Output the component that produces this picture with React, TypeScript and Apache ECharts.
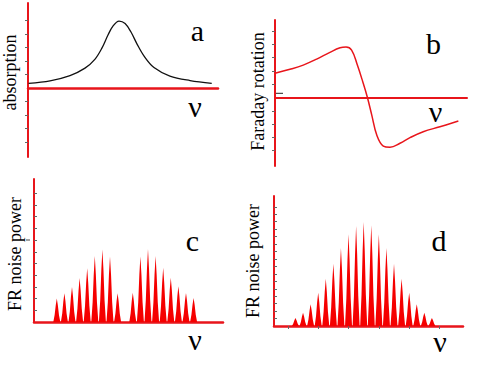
import React, { useEffect, useRef } from "react";
import * as echarts from "echarts";

// Panel a: absorption line (x: frequency units 0..100, y: tick units)
const CURVE_A_X = [0.3, 11.6, 22.1, 30.0, 35.3, 38.9, 42.1, 44.7, 47.9, 51.1, 54.2, 57.4, 61.1, 66.3, 74.7, 85.3, 96.7];
const CURVE_A_Y = [0.35, 0.54, 0.93, 1.48, 2.15, 2.96, 3.93, 4.59, 4.96, 4.78, 4.15, 3.26, 2.37, 1.52, 0.89, 0.56, 0.35];

// Panel b: Faraday rotation (dispersion)
const CURVE_B_X = [0, 7.8, 14.7, 21.7, 28.6, 33.9, 37.0, 39.9, 42.9, 45.7, 48.1, 50.4, 53.0, 56.4, 59.9, 65.1, 70.3, 77.2, 85.9, 95.5];
const CURVE_B_Y = [1.82, 2.12, 2.44, 2.89, 3.4, 3.74, 3.8, 3.57, 2.44, 1.19, 0.02, -1.32, -2.82, -3.65, -3.74, -3.44, -3.02, -2.57, -2.2, -1.77];

// Panel c: FR noise power, two groups of peaks
const PEAKS_C_X = [3, 4, 5, 6, 7, 8, 9, 10, 11, 13, 14, 15, 16, 17, 18, 19, 20, 21];
const PEAKS_C_H = [2.0, 2.45, 3.0, 3.75, 4.6, 5.65, 6.2, 5.6, 2.45, 2.5, 5.6, 6.24, 5.64, 4.64, 3.79, 3.05, 2.48, 2.05];

// Panel d: FR noise power, single group of peaks
const PEAKS_D_X = [3, 4, 5, 6, 7, 8, 9, 10, 11, 12, 13, 14, 15, 16, 17, 18, 19, 20, 21];
const PEAKS_D_H = [1.07, 1.79, 2.91, 4.47, 6.35, 8.36, 10.47, 12.31, 13.42, 13.96, 13.52, 12.31, 10.47, 8.36, 6.35, 4.47, 2.91, 1.79, 1.07];

// Tick values
const TICKS_A_Y = [-4, -3, -2, -1, 1, 2, 3, 4, 5];
const TICKS_B_Y = [-4, -3, -2, -1, 1, 2, 3, 4, 5];
const TICKS_C_Y = [1, 2, 3, 4, 5, 6, 7, 8, 9, 10, 11];
const TICKS_D_Y = [1, 2, 3, 4, 5, 6, 7, 8, 9, 10, 11, 12, 13, 14, 15, 16];
const TICKS_D_X = [2, 6, 10, 14, 18, 22];

// Texts
const PANEL_LETTERS = ["a", "b", "c", "d"];
const Y_TITLES = ["absorption", "Faraday rotation", "FR noise power", "FR noise power"];
const NU = "ν";

const RED = "#e8151b";
const PEAK_RED = "#f50000";
const TICK_GREY = "#666";
const SERIF = "'Liberation Serif', 'Times New Roman', serif";

function zip(xs: number[], ys: number[]) {
  return xs.map((x, i) => [x, ys[i]]);
}

function xAxisCfg(gridIndex: number, min: number, max: number, width: number, ticks?: number[]) {
  return {
    gridIndex,
    type: "value",
    min,
    max,
    axisLine: { show: true, onZero: true, lineStyle: { color: RED, width } },
    axisTick: ticks
      ? { show: true, customValues: ticks, length: 3, inside: false, lineStyle: { color: TICK_GREY, width: 1 } }
      : { show: false },
    axisLabel: { show: false },
    splitLine: { show: false },
  };
}

function yAxisCfg(gridIndex: number, min: number, max: number, ticks: number[], inside: boolean) {
  return {
    gridIndex,
    type: "value",
    min,
    max,
    axisLine: { show: true, onZero: false, lineStyle: { color: RED, width: 2 } },
    axisTick: { show: true, customValues: ticks, length: 3, inside, lineStyle: { color: TICK_GREY, width: 1 } },
    axisLabel: { show: false },
    splitLine: { show: false },
  };
}

function peakRenderer(params: any, api: any) {
  const x = api.value(0);
  const h = api.value(1);
  const b = api.coord([x, 0]);
  const t = api.coord([x, h]);
  const H = b[1] - t[1];
  const hw = 3.5;
  const pts = [
    [b[0] - hw, b[1]],
    [b[0] - hw * 0.62, b[1] - H * 0.3],
    [b[0] - hw * 0.3, b[1] - H * 0.72],
    [b[0], t[1]],
    [b[0] + hw * 0.3, b[1] - H * 0.72],
    [b[0] + hw * 0.62, b[1] - H * 0.3],
    [b[0] + hw, b[1]],
  ];
  return { type: "polygon", shape: { points: pts }, style: { fill: PEAK_RED } };
}

function txt(text: string, x: number, y: number, size: number, rotate = 0) {
  return {
    type: "text",
    x,
    y,
    rotation: rotate,
    style: {
      text,
      fill: "#000",
      font: `${size}px ${SERIF}`,
      align: "center",
      verticalAlign: "middle",
    },
  };
}

export default function App() {
  const ref = useRef<HTMLDivElement>(null);
  useEffect(() => {
    if (!ref.current) return;
    const chart = echarts.init(ref.current, undefined, { renderer: "svg" });
    const option: any = {
      animation: false,
      backgroundColor: "#fff",
      grid: [
        { left: 28, top: 3, width: 190, height: 154 },
        { left: 275, top: 20, width: 192, height: 146 },
        { left: 34, top: 179, width: 189, height: 143 },
        { left: 274, top: 196, width: 189, height: 130 },
      ],
      xAxis: [
        xAxisCfg(0, 0, 100, 2.5),
        xAxisCfg(1, 0, 100, 2),
        xAxisCfg(2, 0, 24.87, 2.5),
        xAxisCfg(3, 0.17, 25.1, 2.5, TICKS_D_X),
      ],
      yAxis: [
        yAxisCfg(0, -5.1, 6.3, TICKS_A_Y, false),
        yAxisCfg(1, -5.15, 5.83, TICKS_B_Y, false),
        yAxisCfg(2, 0, 12.22, TICKS_C_Y, true),
        yAxisCfg(3, 0, 17.45, TICKS_D_Y, true),
      ],
      series: [
        {
          type: "line",
          xAxisIndex: 0,
          yAxisIndex: 0,
          data: zip(CURVE_A_X, CURVE_A_Y),
          smooth: 0.35,
          symbol: "none",
          lineStyle: { color: "#111", width: 1.3 },
        },
        {
          type: "line",
          xAxisIndex: 1,
          yAxisIndex: 1,
          data: zip(CURVE_B_X, CURVE_B_Y),
          smooth: 0.4,
          symbol: "none",
          lineStyle: { color: RED, width: 1.5 },
        },
        {
          type: "custom",
          xAxisIndex: 2,
          yAxisIndex: 2,
          data: zip(PEAKS_C_X, PEAKS_C_H),
          renderItem: peakRenderer,
          clip: false,
        },
        {
          type: "custom",
          xAxisIndex: 3,
          yAxisIndex: 3,
          data: zip(PEAKS_D_X, PEAKS_D_H),
          renderItem: peakRenderer,
          clip: false,
        },
      ],
      graphic: [
        txt(Y_TITLES[0], 10, 72.5, 18, Math.PI / 2),
        txt(Y_TITLES[1], 257.7, 91.5, 18, Math.PI / 2),
        txt(Y_TITLES[2], 15, 254, 18, Math.PI / 2),
        txt(Y_TITLES[3], 252.5, 261, 18, Math.PI / 2),
        txt(PANEL_LETTERS[0], 197.5, 30, 30),
        txt(PANEL_LETTERS[1], 433.5, 43.3, 30),
        txt(PANEL_LETTERS[2], 192.5, 240, 30),
        txt(PANEL_LETTERS[3], 439, 240, 30),
        txt(NU, 195, 106, 30),
        txt(NU, 435.5, 111, 30),
        txt(NU, 195, 339, 30),
        txt(NU, 440, 341, 30),
        {
          type: "line",
          shape: { x1: 275, y1: 93.3, x2: 283, y2: 93.3 },
          style: { stroke: "#222", lineWidth: 1 },
        },
        {
          type: "line",
          shape: { x1: 26, y1: 240, x2: 30, y2: 240 },
          style: { stroke: "#444", lineWidth: 1 },
        },
      ],
    };
    chart.setOption(option);
    return () => chart.dispose();
  }, []);
  return (
    <div
      ref={ref}
      style={{ position: "fixed", left: 0, top: 0, width: 491, height: 366, background: "#fff" }}
    />
  );
}
